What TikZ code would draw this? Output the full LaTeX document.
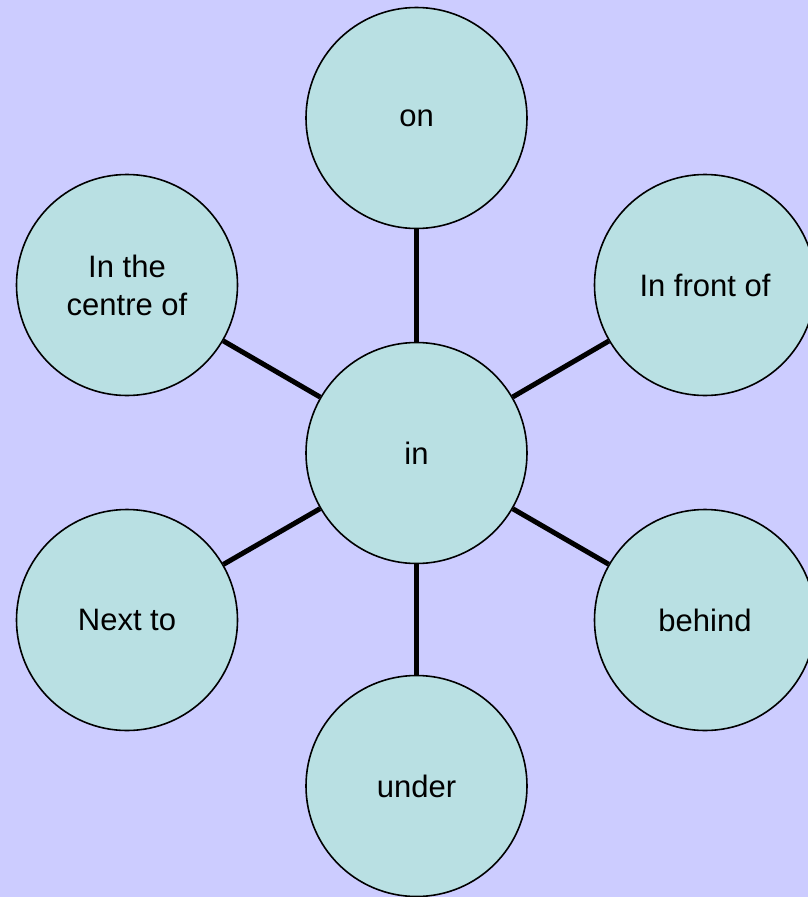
\documentclass[tikz,border=0pt]{standalone}
\usepackage{fontspec}
\setmainfont{Liberation Sans}
\definecolor{bgcol}{HTML}{CCCCFF}
\definecolor{circfill}{HTML}{B9E0E3}
\begin{document}
\begin{tikzpicture}[x=1pt,y=-1pt,
  bubble/.style={circle,draw=black,line width=1.6pt,fill=circfill,minimum size=221pt,inner sep=0pt,align=center,font=\fontsize{31}{38}\selectfont},
  link/.style={line width=5pt,draw=black}]
\fill[bgcol] (0,0) rectangle (808,897);
\useasboundingbox (0,0) rectangle (808,897);
\node[bubble] (in) at (416.5,453) {in};
\node[bubble] (on) at (416.5,118) {on};
\node[bubble] (front) at (705,285) {In front of};
\node[bubble] (behind) at (705,620) {behind};
\node[bubble] (under) at (416.5,786) {under};
\node[bubble] (next) at (127,620) {Next to};
\node[bubble] (centre) at (127,285) {In the\\centre of};
\foreach \t in {on,front,behind,under,next,centre}
  \draw[link] (in) -- (\t);
\end{tikzpicture}
\end{document}
